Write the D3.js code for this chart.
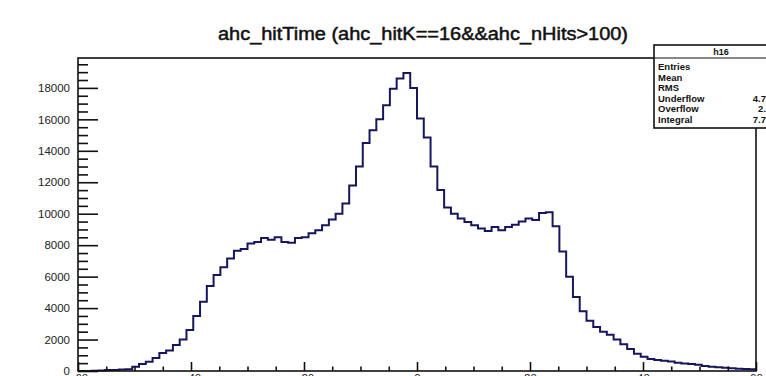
<!DOCTYPE html>
<html>
<head>
<meta charset="utf-8">
<script src="https://cdn.jsdelivr.net/npm/d3@7"></script>
<style>
  html, body { margin: 0; padding: 0; background: #fff; overflow: hidden; }
  svg { display: block; font-family: "Liberation Sans", Arial, sans-serif; }
</style>
</head>
<body>
<svg id="chart" width="766" height="376"></svg>
<script>
// Histogram of ahc_hitTime, 100 bins from -60 to 60
const xRange = [-60, 60];
const nBins = 100;
const counts = [
  0, 0, 10, 30, 60, 70, 100, 110, 270, 440,
  590, 825, 1140, 1300, 1650, 2010, 2600, 3500, 4400, 5400,
  6100, 6600, 7150, 7650, 7750, 8100, 8200, 8450, 8350, 8500,
  8200, 8150, 8450, 8500, 8750, 8950, 9270, 9630, 10000, 10650,
  11800, 13000, 14500, 15300, 16000, 16900, 17950, 18590, 18950, 18000,
  16050, 14840, 13000, 11500, 10400, 10000, 9700, 9480, 9270, 9060,
  8900, 9160, 8950, 9160, 9300, 9500, 9700, 9600, 10050, 10100,
  9200, 7600, 6000, 4700, 3800, 3200, 2800, 2500, 2300, 2000,
  1700, 1400, 1100, 900, 760, 700, 650, 600, 530, 480,
  440, 400, 320, 270, 240, 200, 170, 150, 130, 110
];
const yMax = 19900;
const xMajorTicks = [-60, -40, -20, 0, 20, 40, 60];
const yMajorTicks = [0, 2000, 4000, 6000, 8000, 10000, 12000, 14000, 16000, 18000];

const titleText = "ahc_hitTime (ahc_hitK==16&&ahc_nHits>100)";
const statsName = "h16";
const statsLabels = ["Entries", "Mean", "RMS", "Underflow", "Overflow", "Integral"];
const statsValues = ["824619", "-1.507", "20.55", "4.735e+04", "2.12e+04", "7.747e+05"];

const svg = d3.select("#chart");
const frame = { left: 78, right: 756, top: 58, bottom: 371 };

const x = d3.scaleLinear().domain(xRange).range([frame.left, frame.right]);
const y = d3.scaleLinear().domain([0, yMax]).range([frame.bottom, frame.top]);

const binW = (xRange[1] - xRange[0]) / nBins;
const bins = counts.map((c, i) => ({ x0: xRange[0] + i * binW, x1: xRange[0] + (i + 1) * binW, c }));

// Title
svg.append("text")
  .attr("x", 423).attr("y", 40)
  .attr("text-anchor", "middle")
  .attr("font-size", 18)
  .attr("textLength", 410).attr("lengthAdjust", "spacingAndGlyphs")
  .attr("fill", "#111").attr("stroke", "#111").attr("stroke-width", 0.5)
  .text(titleText);

// Histogram outline as a step path
let d = `M${x(bins[0].x0)},${y(0)}`;
bins.forEach(b => {
  d += `L${x(b.x0)},${y(b.c)}L${x(b.x1)},${y(b.c)}`;
});
d += `L${x(xRange[1])},${y(0)}`;
svg.append("path")
  .attr("d", d)
  .attr("fill", "none")
  .attr("stroke", "#16165e")
  .attr("stroke-width", 2)
  .attr("stroke-linejoin", "miter");

// Frame
svg.append("rect")
  .attr("x", frame.left).attr("y", frame.top)
  .attr("width", frame.right - frame.left).attr("height", frame.bottom - frame.top)
  .attr("fill", "none").attr("stroke", "#111").attr("stroke-width", 1.6);

// Y axis: major ticks with labels, minor ticks
const yMinor = d3.range(0, yMax, 500).filter(v => v % 2000 !== 0);
svg.append("g")
  .attr("transform", `translate(${frame.left},0)`)
  .call(d3.axisLeft(y).tickValues(yMinor).tickSize(-10).tickFormat(""))
  .call(g => g.select(".domain").remove())
  .call(g => g.selectAll("line").attr("stroke", "#111").attr("stroke-width", 1.6));
svg.append("g")
  .attr("transform", `translate(${frame.left},0)`)
  .call(d3.axisLeft(y).tickValues(yMajorTicks).tickSize(-20).tickPadding(8).tickFormat(d3.format("d")))
  .call(g => g.select(".domain").remove())
  .call(g => g.selectAll("line").attr("stroke", "#111").attr("stroke-width", 1.6))
  .call(g => g.selectAll("text").attr("font-size", 11.5).attr("fill", "#222")
    .attr("font-family", "Liberation Sans, Arial, sans-serif"));

// X axis: major ticks with labels, minor ticks
const xMinor = d3.range(xRange[0], xRange[1] + 0.1, 5).filter(v => v % 20 !== 0);
svg.append("g")
  .attr("transform", `translate(0,${frame.bottom})`)
  .call(d3.axisBottom(x).tickValues(xMinor).tickSize(-4.5).tickFormat(""))
  .call(g => g.select(".domain").remove())
  .call(g => g.selectAll("line").attr("stroke", "#111").attr("stroke-width", 1.6));
svg.append("g")
  .attr("transform", `translate(0,${frame.bottom})`)
  .call(d3.axisBottom(x).tickValues(xMajorTicks).tickSize(-9).tickPadding(3).tickFormat(d3.format("d")))
  .call(g => g.select(".domain").remove())
  .call(g => g.selectAll("line").attr("stroke", "#111").attr("stroke-width", 1.6))
  .call(g => g.selectAll("text").attr("font-size", 11.5).attr("fill", "#222")
    .attr("font-family", "Liberation Sans, Arial, sans-serif"));

// Statistics box
const box = { x: 654, y: 45, w: 150, h: 83 };
const stats = svg.append("g");
stats.append("rect")
  .attr("x", box.x).attr("y", box.y).attr("width", box.w).attr("height", box.h)
  .attr("fill", "#fff").attr("stroke", "#111").attr("stroke-width", 1.6);
stats.append("line")
  .attr("x1", box.x).attr("x2", box.x + box.w)
  .attr("y1", box.y + 13).attr("y2", box.y + 13)
  .attr("stroke", "#111").attr("stroke-width", 1);
stats.append("text")
  .attr("x", 721).attr("y", box.y + 10)
  .attr("text-anchor", "middle").attr("font-size", 9).attr("font-weight", "bold")
  .attr("fill", "#111").text(statsName);
statsLabels.forEach((lab, i) => {
  const ty = box.y + 25 + i * 10.6;
  stats.append("text")
    .attr("x", box.x + 4).attr("y", ty)
    .attr("font-size", 9.5).attr("font-weight", "bold").attr("fill", "#111")
    .text(lab);
  stats.append("text")
    .attr("x", box.x + 144).attr("y", ty)
    .attr("text-anchor", "end")
    .attr("font-size", 9.5).attr("font-weight", "bold").attr("fill", "#111")
    .text(statsValues[i]);
});
</script>
</body>
</html>
